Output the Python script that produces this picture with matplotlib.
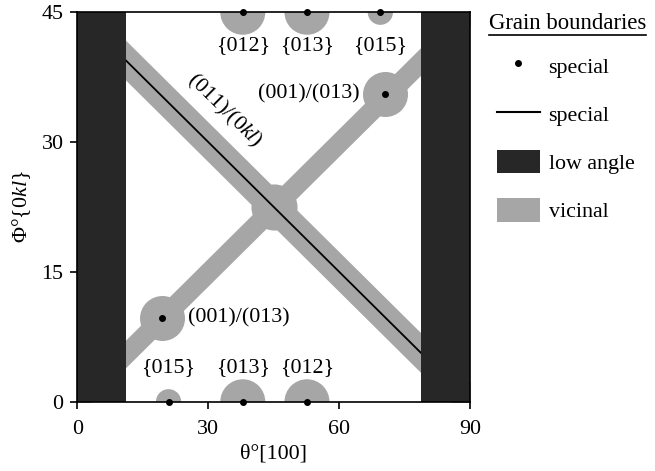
import matplotlib
matplotlib.use("Agg")
import matplotlib.pyplot as plt
from matplotlib.lines import Line2D
from matplotlib.patches import Patch

plt.rcParams["font.family"] = ["Liberation Serif", "DejaVu Serif"]
plt.rcParams["mathtext.fontset"] = "custom"
plt.rcParams["mathtext.rm"] = "Liberation Serif"
plt.rcParams["mathtext.it"] = "Liberation Serif:italic"

DARK = "#272727"
GRAY = "#a6a6a6"
FS = 15.8

# low angle regions (theta ranges)
low_angle = [(0, 11.25), (78.75, 90)]

# vicinal bands: endpoints of centre line and half width (degrees in Phi)
band_x = [0, 90]
band_special_y = [45, 0]      # (011)/(0kl), also drawn as special line
band_half_special = 2.3
band_other_y = [0, 45]        # (001)/(013)
band_half_other = 1.6

# special boundaries (points)
special_x = [19.3, 70.5]
special_y = [9.7, 35.5]
crossing = (45.0, 22.5)

# facets on top and bottom edges
top_x = [37.9, 52.6, 69.4]
top_labels = ["{012}", "{013}", "{015}"]
top_big = [True, True, False]
bot_x = [20.9, 37.9, 52.6]
bot_labels = ["{015}", "{013}", "{012}"]
bot_big = [False, True, True]

BIG = 1050
SMALL = 330

fig = plt.figure(figsize=(6.55, 4.71), dpi=100)
ax = fig.add_axes([0.118, 0.147, 0.6, 0.827])

# vicinal bands
for ys, hw in [(band_special_y, band_half_special), (band_other_y, band_half_other)]:
    lo = [v - hw for v in ys]
    hi = [v + hw for v in ys]
    ax.fill_between(band_x, lo, hi, color=GRAY, lw=0, zorder=1)

ax.scatter(special_x, special_y, s=BIG, color=GRAY, lw=0, zorder=1)
ax.scatter([crossing[0]], [crossing[1]], s=BIG * 1.05, color=GRAY, lw=0, zorder=1)
ax.scatter(top_x, [45] * 3, s=[BIG if b else SMALL for b in top_big],
           color=GRAY, lw=0, zorder=1)
ax.scatter(bot_x, [0] * 3, s=[BIG if b else SMALL for b in bot_big],
           color=GRAY, lw=0, zorder=1)

# special line
ax.plot(band_x, band_special_y, color="k", lw=1.3, zorder=2)

# special points
ax.plot(special_x, special_y, "o", color="k", ms=4, zorder=4, clip_on=False)
ax.plot(top_x, [45] * 3, "o", color="k", ms=4, zorder=4, clip_on=False)
ax.plot(bot_x, [0] * 3, "o", color="k", ms=4, zorder=4, clip_on=False)

# low angle bands
for a, b in low_angle:
    ax.axvspan(a, b, color=DARK, lw=0, zorder=3)

# labels
for x, lab in zip(top_x, top_labels):
    ax.text(x, 41.2, lab, ha="center", va="center", fontsize=FS)
for x, lab in zip(bot_x, bot_labels):
    ax.text(x, 3.9, lab, ha="center", va="center", fontsize=FS)
ax.text(25.4, 9.7, "(001)/(013)", ha="left", va="center", fontsize=FS)
ax.text(64.6, 35.6, "(001)/(013)", ha="right", va="center", fontsize=FS)
ax.text(33.6, 33.6, "(011)/(0$\\mathit{kl}$)", ha="center", va="center",
        fontsize=FS, rotation=-44.5, rotation_mode="anchor")

ax.set_xlim(0, 90)
ax.set_ylim(0, 45)
ax.set_xticks([0, 30, 60, 90])
ax.set_yticks([0, 15, 30, 45])
ax.tick_params(labelsize=FS, direction="out", length=5, width=1.2)
ax.tick_params(axis="x", pad=8)
ax.tick_params(axis="y", pad=5)
for sp in ax.spines.values():
    sp.set_linewidth(1.2)
    sp.set_zorder(5)
ax.set_xlabel("θ°[100]", fontsize=FS, labelpad=4)
ax.set_ylabel("Φ°{0$\\mathit{kl}$}", fontsize=FS, labelpad=6)

handles = [
    Line2D([], [], marker="o", ls="", color="k", ms=4),
    Line2D([], [], color="k", lw=1.5),
    Patch(facecolor=DARK, edgecolor="none"),
    Patch(facecolor=GRAY, edgecolor="none"),
]
labels = ["special", "special", "low angle", "vicinal"]
fig.legend(handles, labels, loc="upper left", bbox_to_anchor=(497 / 655, 1 - 54 / 471),
           frameon=False, fontsize=FS, handlelength=1.95, handleheight=1.25,
           handletextpad=0.4, labelspacing=1.1, borderpad=0, borderaxespad=0)

title = fig.text(489 / 655, 1 - 29 / 471, "Grain boundaries", fontsize=FS * 1.04,
                 ha="left", va="baseline")
fig.canvas.draw()
bb = title.get_window_extent()
W, H = fig.bbox.width, fig.bbox.height
fig.add_artist(Line2D([bb.x0 / W, bb.x1 / W], [(bb.y0 - 1) / H] * 2,
                      color="k", lw=1.2, transform=fig.transFigure))

fig.savefig("out.png", dpi=100)
